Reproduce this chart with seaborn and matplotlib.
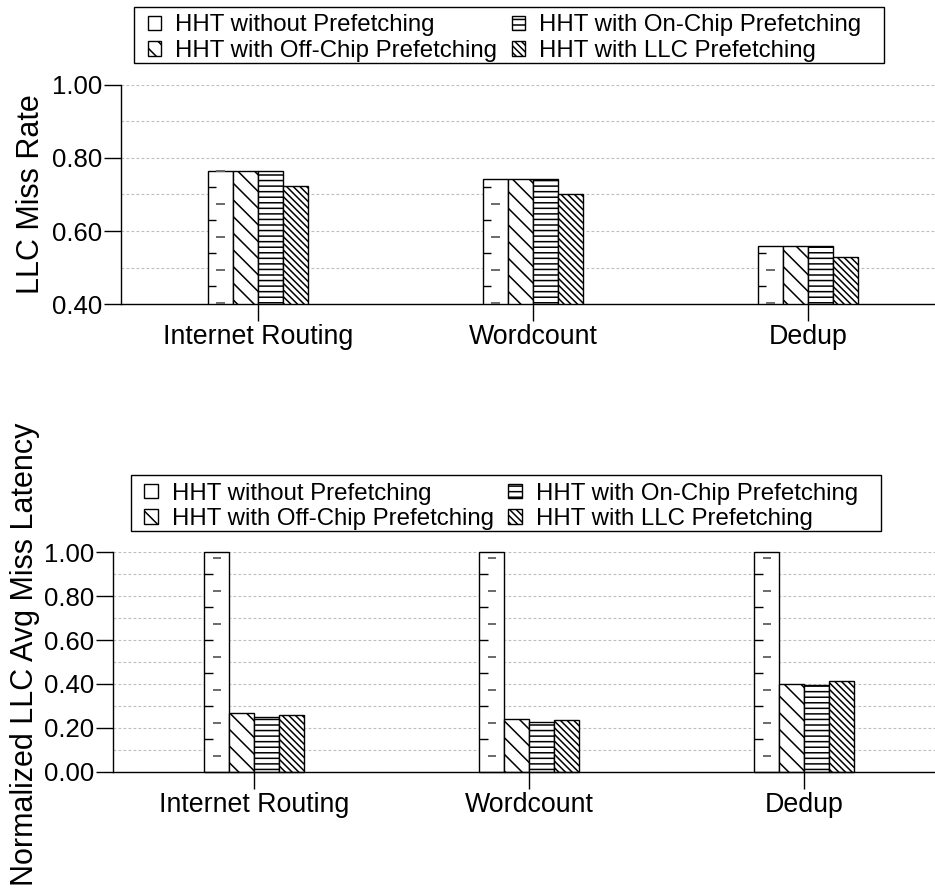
import numpy as np
import pandas as pd
import matplotlib
matplotlib.use("Agg")
import matplotlib.pyplot as plt
import seaborn as sns
from matplotlib.patches import Patch, Rectangle
from matplotlib.ticker import MultipleLocator, FormatStrFormatter

# ---------------- data ----------------
workloads = ["Internet Routing", "Wordcount", "Dedup"]
series = ["HHT without Prefetching", "HHT with Off-Chip Prefetching",
          "HHT with On-Chip Prefetching", "HHT with LLC Prefetching"]

miss_rate_no_pf = [0.765, 0.743, 0.559]
miss_rate_offchip = [0.765, 0.743, 0.559]
miss_rate_onchip = [0.765, 0.743, 0.559]
miss_rate_llc = [0.723, 0.701, 0.528]

latency_no_pf = [1.0, 1.0, 1.0]
latency_offchip = [0.266, 0.242, 0.401]
latency_onchip = [0.251, 0.228, 0.395]
latency_llc = [0.258, 0.234, 0.412]

miss_rate_ticks = [0.40, 0.60, 0.80, 1.00]
latency_ticks = [0.00, 0.20, 0.40, 0.60, 0.80, 1.00]

miss_rate_label = "LLC Miss Rate"
latency_label = "Normalized LLC Avg Miss Latency"

# ---------------- style ----------------
sns.set_theme(style="white")
plt.rcParams["font.family"] = ["Liberation Sans", "DejaVu Sans"]
plt.rcParams["hatch.linewidth"] = 1.1
plt.rcParams["axes.edgecolor"] = "black"
plt.rcParams["text.color"] = "black"
plt.rcParams["axes.labelcolor"] = "black"

BS = chr(92)
hatches = ["", BS * 2, "---", BS * 5]
FIG_W, FIG_H = 935, 894


def long_frame(cols):
    rows = []
    for s, vals in zip(series, cols):
        for w, v in zip(workloads, vals):
            rows.append({"workload": w, "series": s, "value": v})
    return pd.DataFrame(rows)


def decorate_white_bars(ax, container, black_phase, gray_phase, period=33.0):
    """Reproduce the little tick pattern printed inside the plain bars."""
    pos = ax.get_position()
    ax_w_px = pos.width * FIG_W
    ax_h_px = pos.height * FIG_H
    y0, y1 = ax.get_ylim()
    x0l, x1l = ax.get_xlim()
    upy = (y1 - y0) / ax_h_px
    upx = (x1l - x0l) / ax_w_px
    for p in container:
        bx = p.get_x()
        lo = max(y0, p.get_y())
        top = p.get_y() + p.get_height()
        for phase, color, xa, xb, lw in ((black_phase, "black", 0.0, 8.3, 1.0),
                                          (gray_phase, "#6a6a6a", 8.3, 16.7, 1.4)):
            ys = []
            k = 0
            while True:
                yy = y0 + (phase + period * k) * upy
                if yy > top + 0.5 * upy:
                    break
                if yy > lo + 0.5 * upy:
                    ys.append(yy)
                k += 1
            if ys:
                ax.hlines(ys, bx + xa * upx, bx + xb * upx, colors=color,
                          linewidth=lw, zorder=3, clip_on=False)


def draw_panel(ax, cols, ylim, ticks, ylabel, xlim, label_xy,
               black_phase, gray_phase, clip=True):
    df = long_frame(cols)
    sns.barplot(data=df, x="workload", y="value", hue="series",
                order=workloads, hue_order=series,
                palette=["white"] * 4, saturation=1, edgecolor="black",
                linewidth=1.0, width=0.364, errorbar=None, legend=False, ax=ax)
    for cont, h in zip(ax.containers, hatches):
        for p in cont:
            p.set_hatch(h)
            p.set_facecolor("white")
            p.set_edgecolor("black")
            p.set_zorder(2)
            if not clip:
                p.set_clip_on(False)
    ax.set_xlim(*xlim)
    ax.set_ylim(*ylim)
    ax.set_yticks(ticks)
    ax.yaxis.set_major_formatter(FormatStrFormatter("%.2f"))
    ax.yaxis.set_minor_locator(MultipleLocator(0.1))
    ax.set_axisbelow(True)
    ax.grid(axis="y", which="both", color="#bdbdbd",
            linestyle=(0, (2.5, 2.0)), linewidth=0.8)
    ax.grid(axis="x", visible=False)
    for s in ("top", "right"):
        ax.spines[s].set_visible(False)
    for s in ("left", "bottom"):
        ax.spines[s].set_linewidth(1.0)
        ax.spines[s].set_color("black")
    ax.tick_params(axis="y", which="major", direction="out", length=12,
                   width=1.0, pad=1.5, labelsize=18.5, colors="black",
                   left=True)
    ax.tick_params(axis="y", which="minor", length=0, left=False)
    ax.tick_params(axis="x", direction="out", length=12, width=1.0, pad=2.5,
                   labelsize=19.3, colors="black", bottom=True)
    ax.set_xlabel("")
    ax.set_ylabel(ylabel, fontsize=22, color="black")
    ax.yaxis.set_label_coords(*label_xy)
    decorate_white_bars(ax, ax.containers[0], black_phase, gray_phase)


fig = plt.figure(figsize=(FIG_W / 100, FIG_H / 100), dpi=100)

# upper panel
ax1 = fig.add_axes([120.7 / FIG_W, (FIG_H - 304.3) / FIG_H,
                    825.0 / FIG_W, 219.8 / FIG_H])
draw_panel(ax1, [miss_rate_no_pf, miss_rate_offchip, miss_rate_onchip, miss_rate_llc],
           (0.4, 1.0), miss_rate_ticks, miss_rate_label, (-0.5, 2.5),
           (-0.0905, 0.5), 18.0, 1.5)

# lower panel
ax2 = fig.add_axes([113.3 / FIG_W, (FIG_H - 771.7) / FIG_H,
                    828.6 / FIG_W, 219.4 / FIG_H])
draw_panel(ax2, [latency_no_pf, latency_offchip, latency_onchip, latency_llc],
           (0.0, 1.0), latency_ticks, latency_label, (-0.513, 2.5),
           (-0.089, 0.536), 33.0, 15.7, clip=False)

handles = [Patch(facecolor="white", edgecolor="black", hatch=h, label=s,
                 linewidth=1.0) for s, h in zip(series, hatches)]

# legends: content anchored at (handle-left, text-top) in pixels from top-left
legends = []
for hx, ty in ((147.7, 14.5), (144.3, 482.5)):
    leg = fig.legend(handles=handles, ncol=2, loc="upper left",
                     bbox_to_anchor=(hx / FIG_W, 1 - ty / FIG_H),
                     bbox_transform=fig.transFigure,
                     fontsize=17.3, frameon=False, borderpad=0.0,
                     labelspacing=0.14, handlelength=0.56, handleheight=0.55,
                     handletextpad=0.58, columnspacing=0.6, borderaxespad=0,
                     labelcolor="black")
    legends.append(leg)

fig.canvas.draw()
renderer = fig.canvas.get_renderer()
pad_l, pad_r, pad_t, pad_b = 13.4, 23.0, 7.3, 1.5
for leg in legends:
    bb = leg.get_window_extent(renderer)
    x0 = bb.x0 - pad_l
    y0 = bb.y0 - pad_b
    w = bb.width + pad_l + pad_r
    h = bb.height + pad_t + pad_b
    fig.add_artist(Rectangle((x0 / FIG_W, y0 / FIG_H), w / FIG_W, h / FIG_H,
                             transform=fig.transFigure, facecolor="none",
                             edgecolor="black", linewidth=1.0, zorder=5))

fig.savefig("out.png", dpi=100)
